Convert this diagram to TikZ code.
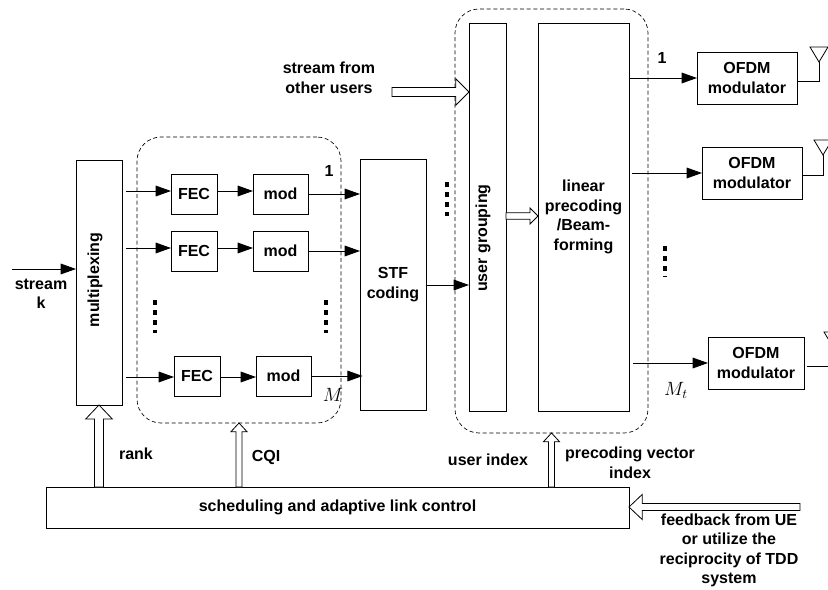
\documentclass[tikz,border=0pt]{standalone}
\usepackage{fontspec}
\setmainfont{Liberation Sans}
\usepackage{amsmath}
\usetikzlibrary{arrows.meta, positioning, calc}

% from, to, half shaft width, half head width, head length
\newcommand{\hollowarrow}[5]{%
  \draw[line width=0.6pt, fill=white]
    ($(#1)!#3!90:(#2)$)
    -- ($($(#2)!#5!(#1)$)!#3!90:(#2)$)
    -- ($($(#2)!#5!(#1)$)!#4!90:(#2)$)
    -- (#2)
    -- ($($(#2)!#5!(#1)$)!#4!-90:(#2)$)
    -- ($($(#2)!#5!(#1)$)!#3!-90:(#2)$)
    -- ($(#1)!#3!-90:(#2)$) -- cycle;}

\begin{document}
\begin{tikzpicture}[
  x=0.75pt, y=-0.75pt,
  every node/.style={font=\fontsize{12}{14.6}\selectfont\bfseries, align=center},
  box/.style={draw, line width=0.75pt, inner sep=0pt, outer sep=0pt, anchor=north west},
  fecbox/.style={box, minimum width=34.5pt, minimum height=30pt},
  modbox/.style={box, minimum width=41.25pt, minimum height=30pt},
  ofdmbox/.style={box, minimum width=75pt, minimum height=39pt},
  group/.style={box, densely dashed, line width=0.5pt, rounded corners=18pt},
  arrow/.style={-{Triangle[length=11.5pt, width=8pt]}, line width=0.75pt},
  vdots/.style={line width=2.6pt, dash pattern=on 3.5pt off 4pt},
  mathlabel/.style={font=\fontsize{14}{14}\selectfont}
]
\useasboundingbox (0,0) rectangle (828,589);

%% blocks
\node[box, minimum width=34.5pt, minimum height=183.75pt] (mux) at (76,160) {};
\node[box, minimum width=49.5pt, minimum height=188.25pt] (stf) at (360,159) {STF\\coding};
\node[box, minimum width=27.75pt, minimum height=291pt] (grouping) at (469,23) {};
\node[box, minimum width=68.25pt, minimum height=291pt] (precoder) at (538,23)
  {linear\\precoding\\/Beam-\\forming};
\node[box, minimum width=437.25pt, minimum height=30.75pt] (sched) at (46,487)
  {scheduling and adaptive link control};

\node[rotate=90] at (95,280) {multiplexing};
\node[rotate=90] at (483,238) {user grouping};

%% FEC and mod rows
\node[fecbox] (fecA) at (171,174) {FEC};
\node[modbox, right=27pt of fecA] (modA) {mod};
\node[fecbox, below=12.75pt of fecA] (fecB) {FEC};
\node[modbox, right=27pt of fecB] (modB) {mod};
\node[fecbox] (fecC) at (174,356) {FEC};
\node[modbox, right=27pt of fecC] (modC) {mod};

%% dashed groups
\node[group, minimum width=153pt, minimum height=214.5pt] (groupA) at (137,137) {};
\node[group, minimum width=144.75pt, minimum height=318pt] (groupB) at (455,9) {};

%% OFDM and antennas
\node[ofdmbox] (ofdmA) at (697,52) {OFDM\\modulator};
\node[ofdmbox] (ofdmB) at (702,147) {OFDM\\modulator};
\node[ofdmbox, minimum width=72pt] (ofdmC) at (708,337) {OFDM\\modulator};

\foreach \n/\px/\py in {A/819/62, B/823/155, C/833/347} {
  \coordinate (ant\n) at (\px,\py);
  \draw[line width=0.6pt] (ant\n) -- ++(-9,-15) -- ++(18,0) -- cycle;
}
\draw[line width=0.75pt] ([yshift=-2.25pt]ofdmA.east) -| (antA);
\draw[line width=0.75pt] ([yshift=-1.5pt]ofdmB.east) -| (antB);
\draw[line width=0.75pt] ([xshift=2pt,yshift=-2.25pt]ofdmC.east) -| (antC);

%% plain arrows
\coordinate (streamin) at (12,269);
\draw[arrow] (streamin) -- (streamin -| mux.west);
\foreach \r/\py in {A/191, B/248, C/377} {
  \draw[arrow] ([xshift=3pt]mux.east |- 0,\py) -- (fec\r.west |- 0,\py);
  \draw[arrow] (fec\r.east |- 0,\py) -- (mod\r.west |- 0,\py);
}
\draw[arrow] (modA.east |- 0,194) -- (stf.west |- 0,194);
\draw[arrow] (modB.east |- 0,251) -- (stf.west |- 0,251);
\draw[arrow] (modC.east |- 0,376) -- ([xshift=2pt]stf.west |- 0,376);
\draw[arrow] (stf.east |- 0,285) -- (grouping.west |- 0,285);
\draw[arrow] (precoder.east |- 0,78) -- (ofdmA.west |- 0,78);
\draw[arrow] ([xshift=2pt]precoder.east |- 0,173) -- (ofdmB.west |- 0,173);
\draw[arrow] ([xshift=3pt]precoder.east |- 0,363) -- (ofdmC.west |- 0,363);

%% hollow arrows
\coordinate (otherin) at (392,92);
\coordinate (feedin) at (800,507);
\hollowarrow{sched.north -| mux.south}{mux.south}{3.4pt}{10pt}{10.5pt}
\hollowarrow{sched.north -| groupA.south}{groupA.south}{2.25pt}{6pt}{6.5pt}
\hollowarrow{sched.north -| groupB.south}{groupB.south}{2.25pt}{6pt}{6.5pt}
\hollowarrow{otherin}{otherin -| grouping.west}{3.4pt}{10pt}{10pt}
\hollowarrow{grouping.east |- 0,216}{precoder.west |- 0,216}{2.5pt}{6pt}{6pt}
\hollowarrow{feedin}{feedin -| sched.east}{2.6pt}{9.5pt}{10pt}

%% dots
\draw[vdots] (155,300) -- (155,333);
\draw[vdots] (326,300) -- (326,333);
\draw[vdots] (447,182) -- (447,216);
\draw[vdots] (665,246) -- (665,277);

%% labels
\node at (41,294) {stream\\k};
\node at (329,78) {stream from\\other users};
\node at (329,171) {1};
\node at (662,58) {1};
\node at (136,454) {rank};
\node at (266,457) {CQI};
\node at (488,460) {user index};
\node at (630,463) {precoding vector\\index};
\node at (729,550.5) {feedback from UE\\or utilize  the\\reciprocity of TDD\\system};
\node[mathlabel] at (333,395) {$M$};
\node[mathlabel] at (676,390) {$M_t$};
\end{tikzpicture}
\end{document}
